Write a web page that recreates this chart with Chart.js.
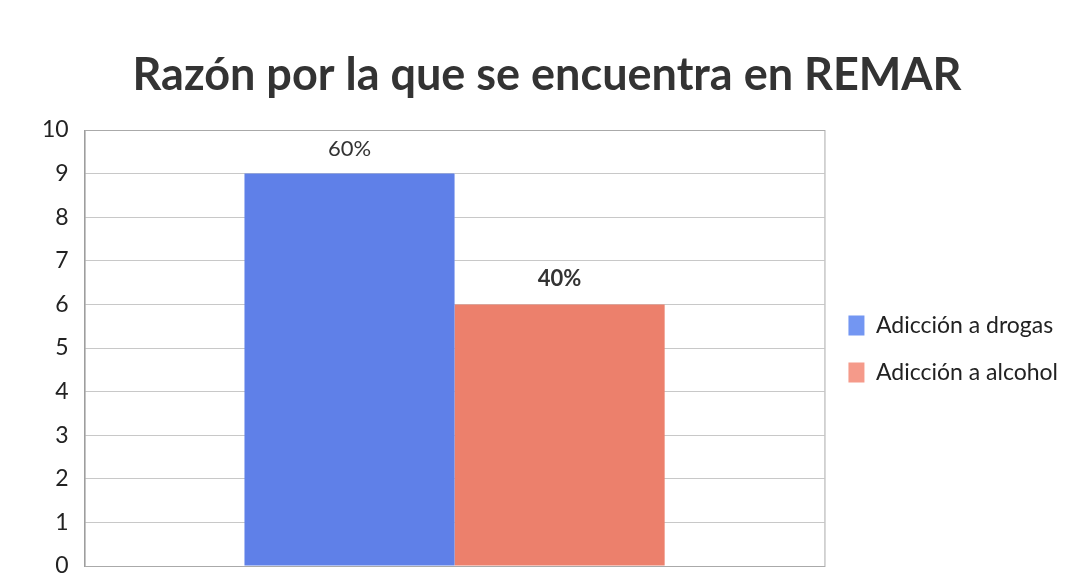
<!DOCTYPE html>
<html>
<head>
<meta charset="utf-8">
<script src="https://cdn.jsdelivr.net/npm/chart.js@4/dist/chart.umd.min.js"></script>
<style>
  html,body{margin:0;padding:0;background:#fff;}
  #wrap{width:1090px;height:588px;position:relative;}
</style>
</head>
<body>
<div id="wrap"><canvas id="chart"></canvas></div>
<script>
const categorias = [''];
const series = ['Adicción a drogas', 'Adicción a alcohol'];
const valores = [9, 6];
const etiquetas = ['60%', '40%'];
const colores = ['#5f80e8', '#ec806c'];
const leyendaColores = ['#7396f2', '#f59a8a'];
const ticksY = [0,1,2,3,4,5,6,7,8,9,10];

const fuente = 'Lato, "Open Sans", sans-serif';

// etiquetas encima de cada barra + marco del area
const etiquetasPlugin = {
  id: 'etiquetas',
  afterDatasetsDraw(chart){
    const ctx = chart.ctx;
    const a = chart.chartArea;
    ctx.save();
    ctx.strokeStyle = '#aaa'; ctx.lineWidth = 1;
    ctx.strokeRect(a.left+0.5, a.top+0.5, a.right-a.left, a.bottom-a.top);
    ctx.restore();
    chart.data.datasets.forEach((ds,i)=>{
      const bar = chart.getDatasetMeta(i).data[0];
      ctx.save();
      ctx.fillStyle = '#333';
      ctx.font = (i===1 ? 'bold ' : '') + '22px ' + fuente;
      ctx.textAlign = 'center';
      ctx.textBaseline = 'bottom';
      ctx.fillText(etiquetas[i], bar.x, bar.y - 14);
      ctx.restore();
    });
  }
};

const datasets = series.map((s,i)=>({
  label: s,
  data: [valores[i]],
  backgroundColor: colores[i],
  borderWidth: 0,
  barPercentage: 1,
  categoryPercentage: 0.568
}));

new Chart(document.getElementById('chart'), {
  type: 'bar',
  data: { labels: categorias, datasets },
  plugins: [etiquetasPlugin],
  options: {
    responsive: true,
    maintainAspectRatio: false,
    animation: false,
    layout: { padding: { left: 26, right: 22, top: 48, bottom: 9 } },
    plugins: {
      title: {
        display: true,
        text: 'Razón por la que se encuentra en REMAR',
        font: { family: fuente, size: 45, weight: 'bold' },
        color: '#333',
        padding: { top: 0, bottom: 28 }
      },
      legend: {
        position: 'right',
        title: { display: true, text: ' ', font: { size: 1 }, padding: { top: 70, bottom: 0 } },
        labels: {
          font: { family: fuente, size: 23 },
          color: '#222',
          boxWidth: 16,
          boxHeight: 20,
          padding: 24,
          generateLabels(chart){
            return series.map((s,i)=>({
              text: s, fillStyle: leyendaColores[i], strokeStyle: leyendaColores[i],
              lineWidth: 0, datasetIndex: i, fontColor: '#222'
            }));
          }
        }
      },
      tooltip: { enabled: false }
    },
    scales: {
      x: {
        display: false
      },
      y: {
        min: 0, max: 10,
        afterBuildTicks(axis){ axis.ticks = ticksY.map(v=>({value:v})); },
        afterFit(axis){ axis.paddingBottom = 22; },
        grid: { color: '#c8c8c8', drawTicks: false },
        border: { display: true, color: '#999' },
        ticks: { font: { family: fuente, size: 23 }, color: '#222', padding: 16 }
      }
    }
  }
});
</script>
</body>
</html>
